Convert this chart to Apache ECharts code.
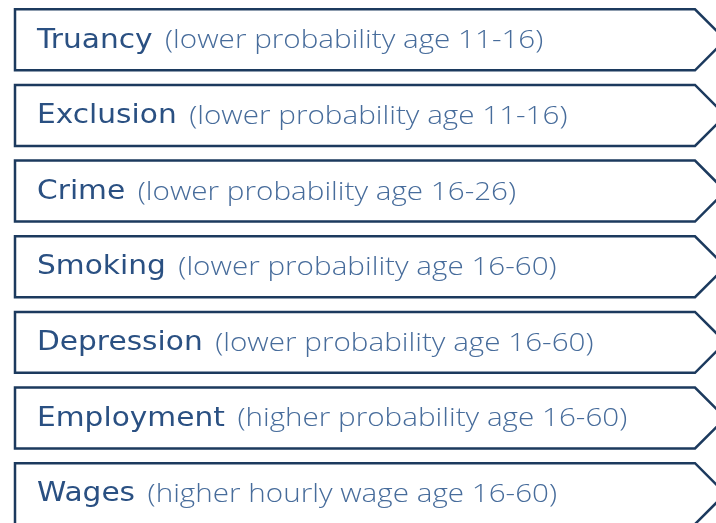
<!DOCTYPE html>
<html>
<head>
    <meta charset="UTF-8">
    <title>Outcomes</title>
    <style>
        html, body { margin: 0; padding: 0; background: #fff; }
        #main { width: 716px; height: 523px; }
    </style>
</head>
<body>
<div id="main"></div>
<script src="https://cdn.jsdelivr.net/npm/echarts@6/dist/echarts.min.js"></script>
<script>
    // 数据
    var outcomes = ['Truancy', 'Exclusion', 'Crime', 'Smoking', 'Depression', 'Employment', 'Wages'];
    var notes = [
        '(lower probability age 11-16)',
        '(lower probability age 11-16)',
        '(lower probability age 16-26)',
        '(lower probability age 16-60)',
        '(lower probability age 16-60)',
        '(higher probability age 16-60)',
        '(higher hourly wage age 16-60)'
    ];
    var rows = [0, 1, 2, 3, 4, 5, 6];

    var myChart = echarts.init(document.getElementById('main'));

    // 箭头框
    function renderArrow(params, api) {
        var idx = api.value(0);
        var c = api.coord([0, idx]);
        var band = api.size([0, 1])[1];
        var h = band * 0.806;
        var sys = params.coordSys;
        var x0 = sys.x, x1 = sys.x + sys.width;
        var top = c[1] - h / 2, bot = c[1] + h / 2;
        return {
            type: 'group',
            children: [
                {
                    type: 'polygon',
                    shape: {
                        points: [[x0, top], [x1, top], [x1 + h / 2, c[1]], [x1, bot], [x0, bot]]
                    },
                    style: { fill: '#fff', stroke: '#1c3a5e', lineWidth: 2.5 }
                },
                {
                    type: 'text',
                    x: x0 + 22,
                    y: c[1] + 1,
                    scaleX: 1.14,
                    style: {
                        text: '{a|' + outcomes[idx] + '}{b|' + notes[idx] + '}',
                        verticalAlign: 'middle',
                        rich: {
                            a: { fontFamily: 'DejaVu Sans', fontSize: 26, fontWeight: 'normal', fill: '#2a5082' },
                            b: { fontFamily: 'Open Sans', fontSize: 26, fontWeight: 300, fill: '#476c9b', padding: [0, 0, 0, 11] }
                        }
                    }
                }
            ]
        };
    }

    var option = {
        animation: false,
        grid: { left: 15, right: 21, top: 2, bottom: 0 },
        xAxis: { type: 'value', min: 0, max: 1, show: false },
        yAxis: { type: 'value', min: -0.5, max: 6.388, inverse: true, show: false },
        series: [{
            type: 'custom',
            renderItem: renderArrow,
            clip: false,
            data: rows.map(function (r) { return [r, 0]; }),
            encode: { y: 0, x: 1 }
        }]
    };
    myChart.setOption(option);
</script>
</body>
</html>
